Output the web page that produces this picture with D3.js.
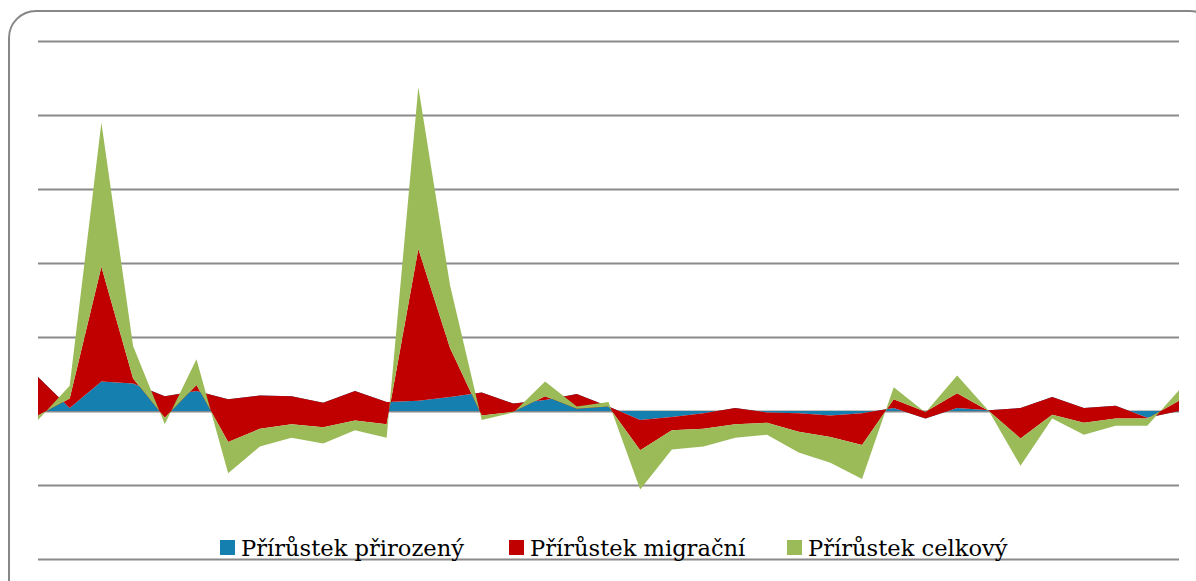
<!DOCTYPE html>
<html><head><meta charset="utf-8">
<script src="https://cdn.jsdelivr.net/npm/d3@7/dist/d3.min.js"></script>
<style>body{margin:0;background:#fff}svg{display:block}</style>
</head><body>
<svg id="chart" width="1196" height="581"></svg>
<script>
const years = [1971,1972,1973,1974,1975,1976,1977,1978,1979,1980,1981,1982,1983,1984,1985,1986,1987,1988,1989,1990,1991,1992,1993,1994,1995,1996,1997,1998,1999,2000,2001,2002,2003,2004,2005,2006,2007];
const natural   = [46,4,40,37,20,27,16,21,20,11,27,12,14,19,25,10,15,23,6,-12,-8,-3,4,-2,-3,-6,-3,4,-10,4,1,4,19,4,7,-9,0];
const migration = [-52,13,155,7,-29,8,-58,-45,-38,-33,-40,-30,205,66,-31,-11,5,-20,0,-41,-18,-21,-22,-14,-25,-29,-43,12,9,20,-1,-41,-24,-20,-17,-1,14];
const total     = [-6,17,195,44,-9,35,-42,-24,-18,-22,-13,-18,219,85,-6,-1,20,3,6,-53,-26,-24,-18,-16,-28,-35,-46,16,-1,24,0,-37,-5,-16,-10,-10,14];
const seriesNames = ["Přírůstek přirozený","Přírůstek migrační","Přírůstek celkový"];
const seriesColors = ["#1580b0","#c00000","#9bbb59"];
const gridTicks = [-200,-100,0,100,200,300,400,500];

const svg = d3.select("#chart");
const x = d3.scalePoint().domain(years).range([38, 1179]);
const y = d3.scaleLinear().domain([-200, 500]).range([559, 41]);

// chart border
svg.append("rect").attr("x", 9).attr("y", 11).attr("width", 1208).attr("height", 600)
  .attr("rx", 27).attr("ry", 27).attr("fill", "none").attr("stroke", "#878787").attr("stroke-width", 2);

// gridlines
const grid = svg.append("g").attr("transform", "translate(38,0)")
  .call(d3.axisLeft(y).tickValues(gridTicks).tickSize(-(1179 - 38)).tickFormat(""));
grid.select(".domain").remove();
grid.selectAll(".tick line").attr("stroke", "#8a8a8a").attr("stroke-width", 2);

// stacked layers (Excel-style cumulative)
const seriesData = [natural, migration, total];
const layers = [];
let prev = years.map(() => 0);
seriesData.forEach((s, k) => {
  const cur = s.map((v, i) => prev[i] + v);
  layers.push(years.map((yr, i) => ({yr, y0: prev[i], y1: cur[i]})));
  prev = cur;
});
const area = d3.area().x(d => x(d.yr)).y0(d => y(d.y0)).y1(d => y(d.y1));
svg.append("g").selectAll("path").data(layers).join("path")
  .attr("d", area).attr("fill", (d, k) => seriesColors[k]);

// legend
const legendX = [220, 509, 787];
const lg = svg.append("g");
seriesNames.forEach((name, k) => {
  lg.append("rect").attr("x", legendX[k]).attr("y", 540).attr("width", 15).attr("height", 15)
    .attr("fill", seriesColors[k]);
  lg.append("text").attr("x", legendX[k] + 21).attr("y", 556)
    .attr("font-family", "'DejaVu Serif', serif").attr("font-size", 22.6)
    .attr("fill", "#000").text(name);
});
</script>
</body></html>
